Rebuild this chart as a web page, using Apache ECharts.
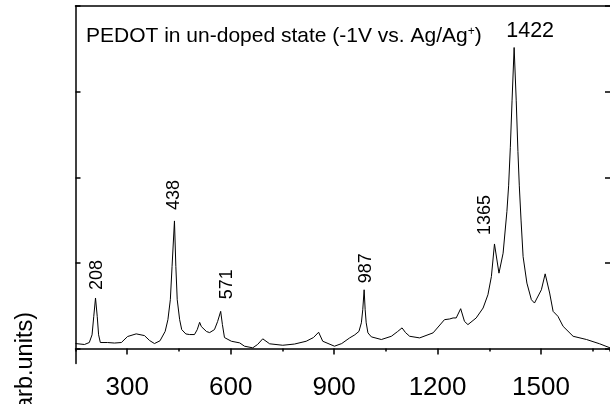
<!DOCTYPE html>
<html><head><meta charset="utf-8">
<script src="https://cdn.jsdelivr.net/npm/echarts@6/dist/echarts.min.js"></script>
<style>html,body{margin:0;padding:0;background:#fff}#c{width:610px;height:404px}</style>
</head><body><div id="c"></div>
<script>
const wavenumber = [150,176,190,198,203,208,213,217,222,243,263,283,301,326,350,365,379,395,410,418,425,430,437,441,445,452,458,470,481,495,503,510,515,520,530,539,553,562,571,576,582,602,626,640,664,678,693,713,751,785,819,840,855,867,901,922,945,960,972,979,983,987,990,993,998,1008,1037,1066,1084,1097,1107,1119,1148,1187,1220,1235,1245,1254,1267,1278,1288,1312,1332,1346,1356,1365,1378,1390,1401,1406,1411,1416,1422,1428,1433,1437,1442,1448,1459,1472,1481,1501,1512,1525,1535,1549,1564,1593,1632,1670,1700];
const intensity = [0.058,0.047,0.07,0.16,0.376,0.59,0.376,0.16,0.07,0.07,0.064,0.07,0.14,0.171,0.151,0.093,0.058,0.09,0.2,0.337,0.57,0.957,1.49,0.957,0.57,0.337,0.221,0.17,0.163,0.163,0.22,0.306,0.256,0.267,0.198,0.186,0.221,0.314,0.434,0.28,0.128,0.085,0.066,0.027,0.008,0.047,0.113,0.055,0.038,0.052,0.085,0.128,0.19,0.085,0.027,0.058,0.124,0.16,0.2,0.3,0.453,0.686,0.453,0.3,0.183,0.136,0.105,0.143,0.198,0.241,0.186,0.143,0.124,0.183,0.337,0.345,0.357,0.357,0.465,0.317,0.279,0.357,0.473,0.628,0.84,1.221,0.88,1.113,1.6,1.9,2.35,2.9,3.515,2.9,2.3,1.9,1.5,1.073,0.764,0.57,0.531,0.686,0.872,0.648,0.434,0.376,0.259,0.143,0.105,0.055,0.008];
const peakPositions = [208, 437, 571, 987, 1365, 1422];
const peakHeights = [0.59, 1.49, 0.434, 0.686, 1.221, 3.515];
const peakLabels = ['208', '438', '571', '987', '1365', '1422'];
const majorTicks = [300, 600, 900, 1200, 1500];
const yTicks = [0, 1, 2, 3, 4];
const titleText = 'PEDOT in un-doped state (-1V vs. Ag/Ag{sup|+})';
const yName = 'Intensity (arb.units)';

const FONT = '"Liberation Sans", Arial, sans-serif';
const labelStyles = [
  {position: [1.2, -8], rotate: 90, align: 'left', verticalAlign: 'middle'},
  {position: [0, -11], rotate: 90, align: 'left', verticalAlign: 'middle'},
  {position: [6, -12], rotate: 90, align: 'left', verticalAlign: 'middle'},
  {position: [1.7, -6.5], rotate: 90, align: 'left', verticalAlign: 'middle'},
  {position: [-9.6, -9], rotate: 90, align: 'left', verticalAlign: 'middle'},
  {position: [16, -16], rotate: 0, align: 'center', verticalAlign: 'middle', fontSize: 21.5}
];
const lineS = {color: '#000', width: 1.5};
const chart = echarts.init(document.getElementById('c'), null, {renderer: 'canvas'});
chart.setOption({
  animation: false,
  backgroundColor: '#fff',
  title: {
    text: titleText, left: 86, top: 26, padding: 0,
    textStyle: {fontFamily: FONT, fontSize: 21, fontWeight: 'normal', color: '#000',
      rich: {sup: {fontFamily: FONT, fontSize: 12, color: '#000', verticalAlign: 'top'}}}
  },
  grid: {left: 75.5, right: 0, top: 6, bottom: 40.5, containLabel: false},
  xAxis: [
    {type: 'value', min: 150, max: 1700, interval: 150, position: 'bottom',
      axisLine: {show: true, lineStyle: lineS},
      axisTick: {show: true, length: 3, lineStyle: lineS},
      axisLabel: {show: true, customValues: majorTicks, margin: 11, fontSize: 26, color: '#000', fontFamily: FONT,
        formatter: v => String(v)},
      splitLine: {show: false}},
    {type: 'value', min: 150, max: 1700, position: 'bottom',
      axisLine: {show: false},
      axisTick: {show: true, customValues: majorTicks, length: 6, lineStyle: lineS},
      axisLabel: {show: false}, splitLine: {show: false}},
    {type: 'value', min: 150, max: 1700, position: 'top',
      axisLine: {show: true, lineStyle: lineS},
      axisTick: {show: false}, axisLabel: {show: false}, splitLine: {show: false}}
  ],
  yAxis: [
    {type: 'value', min: -0.175, max: 4, position: 'left',
      axisLine: {show: true, lineStyle: lineS},
      axisTick: {show: true, inside: true, length: 5, customValues: yTicks, lineStyle: lineS},
      axisLabel: {show: false}, splitLine: {show: false}},
    {type: 'value', min: -0.175, max: 4, position: 'right',
      axisLine: {show: false},
      axisTick: {show: true, inside: true, length: 5, customValues: yTicks, lineStyle: lineS},
      axisLabel: {show: false}, splitLine: {show: false}}
  ],
  graphic: [{
    type: 'text', x: 26, y: 312, rotation: Math.PI / 2,
    style: {text: yName, font: '23.5px "Liberation Sans", Arial, sans-serif', fill: '#000', align: 'right', verticalAlign: 'middle'}
  }],
  series: [
    {type: 'line', xAxisIndex: 0, yAxisIndex: 0, symbol: 'none', silent: true,
      data: wavenumber.map((w, i) => [w, intensity[i]]),
      lineStyle: {color: '#000', width: 1}},
    {type: 'scatter', xAxisIndex: 0, yAxisIndex: 0, symbolSize: 0, silent: true,
      itemStyle: {opacity: 1},
      label: {show: true, color: '#000', opacity: 1, fontSize: 18, fontFamily: FONT,
        formatter: p => peakLabels[p.dataIndex]},
      data: peakPositions.map((p, i) => ({value: [p, peakHeights[i]], label: labelStyles[i]}))}
  ]
});
</script></body></html>
